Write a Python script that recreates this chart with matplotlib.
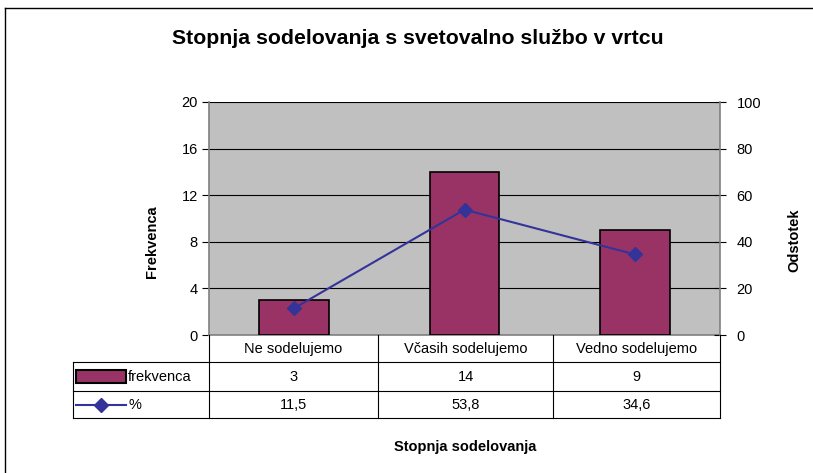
import matplotlib
matplotlib.use("Agg")
import matplotlib.pyplot as plt
from matplotlib.lines import Line2D
from matplotlib.patches import Rectangle

categories = ["Ne sodelujemo", "Včasih sodelujemo", "Vedno sodelujemo"]
frekvenca = [3, 14, 9]
odstotek = [11.5, 53.8, 34.6]
odstotek_labels = ["11,5", "53,8", "34,6"]
series_names = ["frekvenca", "%"]
left_ticks = [0, 4, 8, 12, 16, 20]
right_ticks = [0, 20, 40, 60, 80, 100]

W, H = 813, 473
plt.rcParams['font.family'] = ['Liberation Sans', 'DejaVu Sans']
fig = plt.figure(figsize=(W / 100, H / 100), dpi=100)

def fx(px):
    return px / W

def fy(py):
    return 1 - py / H

# plot area in pixels
L, R, T, B = 209, 720, 102, 335
ax = fig.add_axes([fx(L), fy(B), fx(R) - fx(L), fy(T) - fy(B)])
ax.set_facecolor('#C0C0C0')
x = list(range(len(categories)))
ax.bar(x, frekvenca, width=0.41, color='#993366', edgecolor='black', linewidth=1.2, zorder=3)
ax.set_xlim(-0.5, len(categories) - 0.5)
ax.set_ylim(0, 20)
ax.set_yticks(left_ticks)
ax.set_yticklabels([str(t) for t in left_ticks], fontsize=10.5)
ax.yaxis.grid(True, color='black', linewidth=0.8, zorder=0)
ax.set_axisbelow(True)
ax.set_xticks([])
ax.tick_params(axis='y', direction='out', length=5, width=0.8, pad=3)
for s in ['top', 'right']:
    ax.spines[s].set_visible(False)
ax.spines['left'].set_color('#808080')
ax.spines['left'].set_linewidth(1.2)
ax.spines['bottom'].set_color('#808080')
ax.spines['bottom'].set_linewidth(1.2)

ax2 = ax.twinx()
ax2.plot(x, odstotek, color='#333399', linewidth=1.5, marker='D', markersize=7,
         markerfacecolor='#333399', markeredgecolor='#333399', zorder=4)
ax2.set_ylim(0, 100)
ax2.set_yticks(right_ticks)
ax2.set_yticklabels([str(t) for t in right_ticks], fontsize=10.5)
ax2.tick_params(axis='y', direction='inout', length=8, width=0.8, pad=8)
for s in ['top', 'left', 'bottom']:
    ax2.spines[s].set_visible(False)
ax2.spines['right'].set_color('#808080')
ax2.spines['right'].set_linewidth(1.2)

# axis titles
fig.text(fx(152), fy(242), "Frekvenca", ha='center', va='center', rotation=90,
         fontsize=10.5, fontweight='bold')
fig.text(fx(794), fy(240), "Odstotek", ha='center', va='center', rotation=90,
         fontsize=10.5, fontweight='bold')

# title
fig.text(fx(418), fy(38), "Stopnja sodelovanja s svetovalno službo v vrtcu",
         ha='center', va='center', fontsize=15.3, fontweight='bold')

# outer frame (left and top edges)
fig.add_artist(Line2D([fx(5), fx(5)], [fy(8), 0], transform=fig.transFigure, color='black', lw=1))
fig.add_artist(Line2D([fx(5), 1], [fy(8), fy(8)], transform=fig.transFigure, color='black', lw=1))

# data table
col_x = [L, 378, 553, R]
row_y = [B, 362, 391, 418]
TL = 73
line_kw = dict(transform=fig.transFigure, color='black', lw=0.8)
for yy in row_y[1:]:
    fig.add_artist(Line2D([fx(TL), fx(R)], [fy(yy), fy(yy)], **line_kw))
for xx in col_x:
    fig.add_artist(Line2D([fx(xx), fx(xx)], [fy(B), fy(row_y[-1])], **line_kw))
fig.add_artist(Line2D([fx(TL), fx(TL)], [fy(row_y[1]), fy(row_y[-1])], **line_kw))

for i, cat in enumerate(categories):
    cx = (col_x[i] + col_x[i + 1]) / 2
    fig.text(fx(cx), fy((row_y[0] + row_y[1]) / 2), cat, ha='center', va='center', fontsize=10.5)
    fig.text(fx(cx), fy((row_y[1] + row_y[2]) / 2), str(frekvenca[i]), ha='center', va='center', fontsize=10.5)
    fig.text(fx(cx), fy((row_y[2] + row_y[3]) / 2), odstotek_labels[i], ha='center', va='center', fontsize=10.5)

# legend keys in table
y1 = (row_y[1] + row_y[2]) / 2
fig.add_artist(Rectangle((fx(76), fy(y1 + 6)), fx(126) - fx(76), fy(y1 - 6) - fy(y1 + 6),
                         transform=fig.transFigure, facecolor='#993366', edgecolor='black', lw=1.5))
fig.text(fx(128), fy(y1), series_names[0], ha='left', va='center', fontsize=10.5)
y2 = (row_y[2] + row_y[3]) / 2
fig.add_artist(Line2D([fx(76), fx(126)], [fy(y2), fy(y2)], transform=fig.transFigure,
                      color='#333399', lw=1.5))
fig.add_artist(Line2D([fx(101)], [fy(y2)], transform=fig.transFigure, color='#333399',
                      marker='D', markersize=7, linestyle='None'))
fig.text(fx(128), fy(y2), series_names[1], ha='left', va='center', fontsize=10.5)

# x axis title
fig.text(fx(465), fy(447), "Stopnja sodelovanja", ha='center', va='center', fontsize=10.5, fontweight='bold')

fig.savefig("out.png", dpi=100)
